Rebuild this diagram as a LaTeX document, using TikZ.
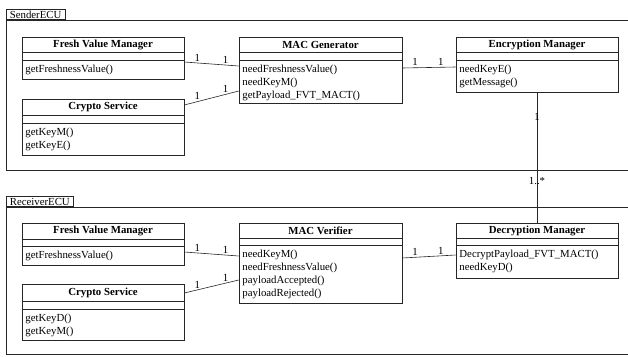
\documentclass[tikz,border=0pt]{standalone}
\usepackage{fontspec}
\setmainfont{Liberation Serif}
\usetikzlibrary{positioning}

\begin{document}
\begin{tikzpicture}[x=1pt,y=-1pt,
	every node/.style={font=\fontsize{10.8}{13}\selectfont},
	umlclass/.style={draw=black!85,line width=0.6pt,minimum width=162pt,inner sep=0pt},
	title/.style={font=\fontsize{10.8}{13}\selectfont\bfseries,inner sep=0pt},
	ops/.style={align=left,inner sep=1.5pt,anchor=north west},
	tab/.style={draw=black!85,line width=0.6pt,anchor=south west,inner xsep=3.5pt,inner ysep=1.5pt},
	link/.style={draw=black!85,line width=0.6pt},
	mult/.style={above,inner sep=1.5pt}]
	\useasboundingbox (0,0) rectangle (628,356);

	% sender frame
	\draw[link] (628,20) -| (6,170) -- (628,170);
	\node[tab] (stab) at (6,20) {SenderECU};

	\node[umlclass,minimum height=42pt] (sfvm) at (103,58) {};
	\node[title] (sfvmt) at ([yshift=-8pt]sfvm.north) {Fresh Value Manager};
	\node[ops] (sfvmo) at ([xshift=2pt,yshift=-26.5pt]sfvm.north west) {getFreshnessValue()};

	\node[umlclass,minimum height=56pt] (scs) at (103,127) {};
	\node[title] (scst) at ([yshift=-8.5pt]scs.north) {Crypto Service};
	\node[ops] (scso) at ([xshift=2pt,yshift=-27.5pt]scs.north west) {getKeyM()\\getKeyE()};

	\node[umlclass,minimum width=163pt,minimum height=66pt] (gen) at (320.5,70) {};
	\node[title] (gent) at ([yshift=-8pt]gen.north) {MAC Generator};
	\node[ops] (geno) at ([xshift=2pt,yshift=-26.5pt]gen.north west) {needFreshnessValue()\\needKeyM()\\getPayload\_FVT\_MACT()};

	\node[umlclass,minimum height=55pt] (enc) at (537,64.5) {};
	\node[title] (enct) at ([yshift=-8pt]enc.north) {Encryption Manager};
	\node[ops] (enco) at ([xshift=2pt,yshift=-27pt]enc.north west) {needKeyE()\\getMessage()};

	% receiver frame
	\draw[link] (628,207) -| (6,354.5) -- (628,354.5);
	\node[tab] (rtab) at (6,207) {ReceiverECU};

	\node[umlclass,minimum height=42pt] (rfvm) at (103,244) {};
	\node[title] (rfvmt) at ([yshift=-8.5pt]rfvm.north) {Fresh Value Manager};
	\node[ops] (rfvmo) at ([xshift=2pt,yshift=-26.5pt]rfvm.north west) {getFreshnessValue()};

	\node[umlclass,minimum height=56pt] (rcs) at (103,312) {};
	\node[title] (rcst) at ([yshift=-9pt]rcs.north) {Crypto Service};
	\node[ops] (rcso) at ([xshift=2pt,yshift=-29pt]rcs.north west) {getKeyD()\\getKeyM()};

	\node[umlclass,minimum width=163pt,minimum height=80pt] (ver) at (320.5,263) {};
	\node[title] (vert) at ([yshift=-8pt]ver.north) {MAC Verifier};
	\node[ops] (vero) at ([xshift=2pt,yshift=-25.5pt]ver.north west) {needKeyM()\\needFreshnessValue()\\payloadAccepted()\\payloadRejected()};

	\node[umlclass,minimum height=55pt] (dec) at (537,250.5) {};
	\node[title] (dect) at ([yshift=-8pt]dec.north) {Decryption Manager};
	\node[ops] (deco) at ([xshift=2pt,yshift=-25.5pt]dec.north west) {DecryptPayload\_FVT\_MACT()\\needKeyD()};

	% compartments
	\draw[link] ([yshift=-16pt]sfvm.north west) -- ([yshift=-16pt]sfvm.north east) ([yshift=-24pt]sfvm.north west) -- ([yshift=-24pt]sfvm.north east);
	\draw[link] ([yshift=-17pt]scs.north west) -- ([yshift=-17pt]scs.north east) ([yshift=-25pt]scs.north west) -- ([yshift=-25pt]scs.north east);
	\draw[link] ([yshift=-16pt]gen.north west) -- ([yshift=-16pt]gen.north east) ([yshift=-24pt]gen.north west) -- ([yshift=-24pt]gen.north east);
	\draw[link] ([yshift=-16pt]enc.north west) -- ([yshift=-16pt]enc.north east) ([yshift=-24pt]enc.north west) -- ([yshift=-24pt]enc.north east);
	\draw[link] ([yshift=-17pt]rfvm.north west) -- ([yshift=-17pt]rfvm.north east) ([yshift=-24pt]rfvm.north west) -- ([yshift=-24pt]rfvm.north east);
	\draw[link] ([yshift=-18pt]rcs.north west) -- ([yshift=-18pt]rcs.north east) ([yshift=-26pt]rcs.north west) -- ([yshift=-26pt]rcs.north east);
	\draw[link] ([yshift=-16pt]ver.north west) -- ([yshift=-16pt]ver.north east) ([yshift=-23pt]ver.north west) -- ([yshift=-23pt]ver.north east);
	\draw[link] ([yshift=-16pt]dec.north west) -- ([yshift=-16pt]dec.north east) ([yshift=-23pt]dec.north west) -- ([yshift=-23pt]dec.north east);

	% associations
	\draw[link] ([yshift=-4pt]sfvm.east) -- ([yshift=4pt]gen.west) node[mult,pos=0.24]{1} node[mult,pos=0.76]{1};
	\draw[link] ([yshift=22pt]scs.east) -- ([yshift=-21pt]gen.west) node[mult,pos=0.24]{1} node[mult,pos=0.76]{1};
	\draw[link] ([yshift=2pt]gen.east) -- ([yshift=-2.5pt]enc.west) node[mult,pos=0.24]{1} node[mult,pos=0.72]{1};
	\draw[link] (enc.south) -- (dec.north) node[pos=0.19,inner sep=0pt]{1} node[pos=0.68,inner sep=0pt]{1..*};
	\draw[link] ([yshift=-8pt]rfvm.east) -- ([yshift=7pt]ver.west) node[mult,pos=0.24]{1} node[mult,pos=0.76]{1};
	\draw[link] ([yshift=19pt]rcs.east) -- ([yshift=-17pt]ver.west) node[mult,pos=0.24]{1} node[mult,pos=0.76]{1};
	\draw[link] ([yshift=5pt]ver.east) -- ([yshift=-4.5pt]dec.west) node[mult,pos=0.24]{1} node[mult,pos=0.72]{1};
\end{tikzpicture}
\end{document}
